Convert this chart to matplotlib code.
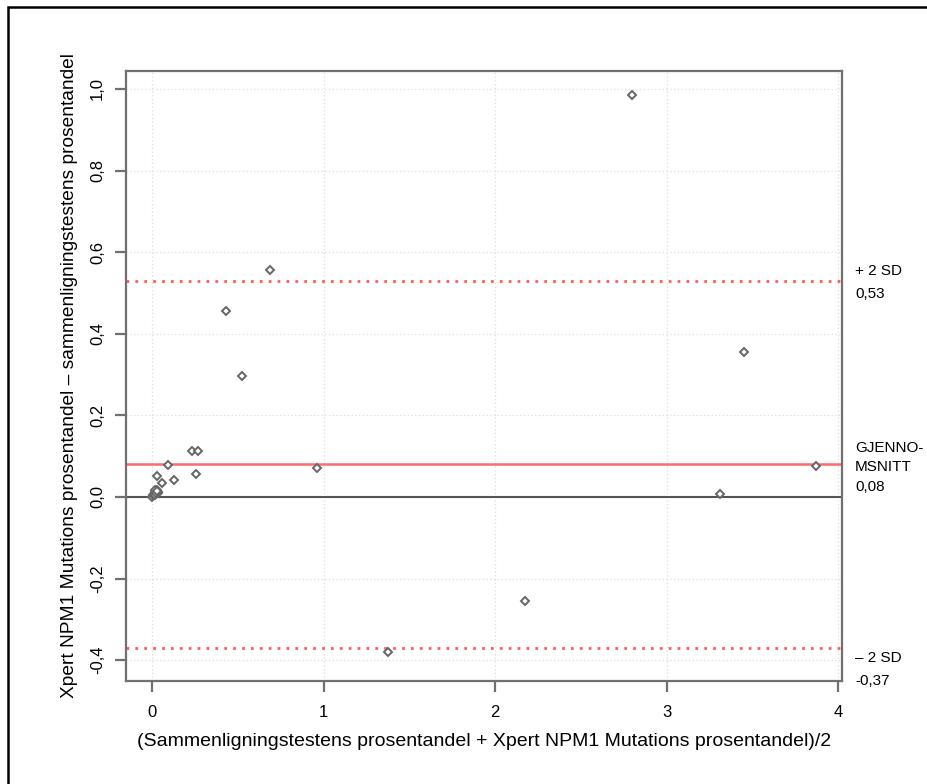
import matplotlib
matplotlib.use("Agg")
import matplotlib.pyplot as plt
from matplotlib.patches import Rectangle
from matplotlib.ticker import FuncFormatter

plt.rcParams["font.family"] = ["Liberation Sans", "DejaVu Sans"]

# Bland-Altman data
mean_pct = [2.80, 0.69, 0.43, 0.525, 3.45, 0.23, 0.27, 0.257, 0.093, 0.128,
            0.03, 0.058, 0.962, 3.31, 3.87, 2.175, 1.376,
            0.0, 0.008, 0.012, 0.018, 0.022, 0.028, 0.032, 0.02, 0.035,
            0.015, 0.025, 0.03]
diff_pct = [0.985, 0.556, 0.457, 0.297, 0.355, 0.113, 0.112, 0.057, 0.079, 0.042,
            0.052, 0.034, 0.071, 0.007, 0.076, -0.255, -0.38,
            0.0, 0.004, 0.008, 0.011, 0.014, 0.016, 0.012, 0.017, 0.010,
            0.006, 0.009, 0.014]

mean_diff = 0.08
upper_sd = 0.53
lower_sd = -0.37

xticks = [0, 1, 2, 3, 4]
yticks = [-0.4, -0.2, 0.0, 0.2, 0.4, 0.6, 0.8, 1.0]

fig = plt.figure(figsize=(9.27, 7.84), dpi=100)
ax = fig.add_axes([126 / 927, 103 / 784, 716 / 927, 610 / 784])

# outer frame (right/bottom edges fall outside the image)
fig.patches.append(Rectangle((8 / 927, -0.1), 1.2, (777 / 784) + 0.1,
                             transform=fig.transFigure, fill=False,
                             edgecolor="black", linewidth=1.8))

ax.grid(True, color="#dddddd", linestyle=(0, (1, 2)), linewidth=0.9)
ax.set_axisbelow(True)

ax.axhline(0, color="#555555", linewidth=1.5, zorder=2)
ax.axhline(mean_diff, color="#ff6b6b", linewidth=1.8, zorder=2)
ax.axhline(upper_sd, color="#ff5c5c", linewidth=2, linestyle=(0, (1, 2.2)), zorder=2)
ax.axhline(lower_sd, color="#ff5c5c", linewidth=2, linestyle=(0, (1, 2.2)), zorder=2)

ax.plot(mean_pct, diff_pct, linestyle="none", marker="D", markersize=4.3,
        markerfacecolor="white", markeredgecolor="#666666", markeredgewidth=1.4,
        zorder=3)

ax.set_xlim(-0.152, 4.023)
ax.set_ylim(-0.451, 1.044)
ax.set_xticks(xticks)
ax.set_yticks(yticks)
ax.xaxis.set_major_formatter(FuncFormatter(lambda v, p: f"{v:.0f}"))
ax.yaxis.set_major_formatter(FuncFormatter(lambda v, p: f"{v:.1f}".replace(".", ",")))

for s in ax.spines.values():
    s.set_color("#707070")
    s.set_linewidth(1.6)
ax.tick_params(axis="both", direction="out", length=8, width=1.6, color="#707070",
               labelsize=12, pad=9)
ax.tick_params(axis="y", labelrotation=90, pad=7)
for lab in ax.get_yticklabels():
    lab.set_va("center")

ax.set_xlabel("(Sammenligningstestens prosentandel + Xpert NPM1 Mutations prosentandel)/2",
              fontsize=14, labelpad=10)
ax.set_ylabel("Xpert NPM1 Mutations prosentandel \u2013 sammenligningstestens prosentandel",
              fontsize=13.8, labelpad=9)

# labels to the right of the plot
tx = 4.10
kw = dict(fontsize=11, ha="left", va="center", clip_on=False)
ax.text(tx, upper_sd + 0.024, "+ 2 SD", **kw)
ax.text(tx, upper_sd - 0.033, "0,53", **kw)
ax.text(tx, mean_diff + 0.04, "GJENNO-", **kw)
ax.text(tx, mean_diff - 0.0065, "MSNITT", **kw)
ax.text(tx, mean_diff - 0.0555, "0,08", **kw)
ax.text(tx, lower_sd - 0.025, "\u2013 2 SD", **kw)
ax.text(tx, lower_sd - 0.081, "-0,37", **kw)

fig.savefig("out.png", dpi=100)
